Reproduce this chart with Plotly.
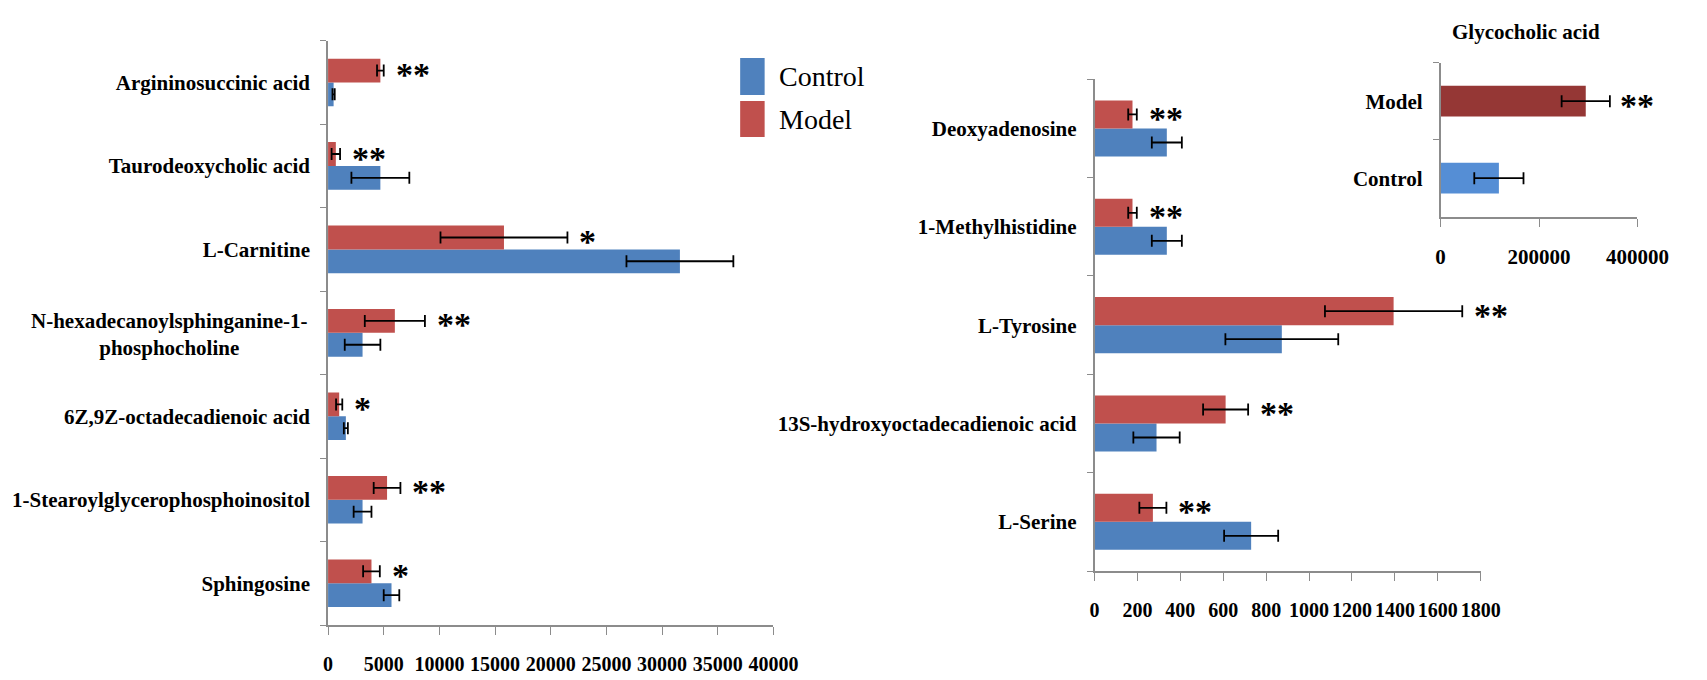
import plotly.graph_objects as go

# ---------------- data ----------------
left_categories = ["Argininosuccinic acid", "Taurodeoxycholic acid", "L-Carnitine",
                   "N-hexadecanoylsphinganine-1-phosphocholine", "6Z,9Z-octadecadienoic acid",
                   "1-Stearoylglycerophosphoinositol", "Sphingosine"]
left_control = [500, 4700, 31600, 3100, 1600, 3100, 5700]
left_control_err = [100, 2600, 4800, 1600, 180, 800, 700]
left_model = [4700, 700, 15800, 6000, 1000, 5300, 3900]
left_model_err = [300, 380, 5700, 2700, 280, 1200, 750]
left_sig = ["**", "**", "*", "**", "*", "**", "*"]

right_categories = ["Deoxyadenosine", "1-Methylhistidine", "L-Tyrosine",
                    "13S-hydroxyoctadecadienoic acid", "L-Serine"]
right_control = [337, 337, 873, 289, 730]
right_control_err = [70, 70, 263, 108, 126]
right_model = [177, 177, 1394, 611, 272]
right_model_err = [20, 20, 320, 105, 63]
right_sig = ["**", "**", "**", "**", "**"]

inset_title = "Glycocholic acid"
inset_groups = ["Model", "Control"]
inset_values = [295000, 118500]
inset_err = [49000, 50000]
inset_sig = ["**", ""]

left_ticks = [0, 5000, 10000, 15000, 20000, 25000, 30000, 35000, 40000]
right_ticks = [0, 200, 400, 600, 800, 1000, 1200, 1400, 1600, 1800]
inset_ticks = [0, 200000, 400000]

# ---------------- style ----------------
FONT = "Liberation Serif, Times New Roman, serif"
BLUE = "#4F81BD"
RED = "#C0504D"
INSET_MODEL = "#953735"
INSET_CONTROL = "#558ED5"
AXIS_COLOR = "#8c8c8c"
BARGAP = 0.43
W, H = 1707, 680

def err(arr):
    return dict(type="data", array=arr, color="black", thickness=1.8, width=6, visible=True)

# bottom-to-top ordering for categorical y axes
left_order = left_categories[::-1]
right_order = right_categories[::-1]

fig = go.Figure()

# Left panel
fig.add_trace(go.Bar(y=left_categories, x=left_control, orientation="h", name="Control",
                     marker=dict(color=BLUE, line=dict(width=0)), error_x=err(left_control_err),
                     xaxis="x", yaxis="y"))
fig.add_trace(go.Bar(y=left_categories, x=left_model, orientation="h", name="Model",
                     marker=dict(color=RED, line=dict(width=0)), error_x=err(left_model_err),
                     xaxis="x", yaxis="y"))
# Right panel
fig.add_trace(go.Bar(y=right_categories, x=right_control, orientation="h", name="Control",
                     marker=dict(color=BLUE, line=dict(width=0)), error_x=err(right_control_err),
                     xaxis="x2", yaxis="y2"))
fig.add_trace(go.Bar(y=right_categories, x=right_model, orientation="h", name="Model",
                     marker=dict(color=RED, line=dict(width=0)), error_x=err(right_model_err),
                     xaxis="x2", yaxis="y2"))
# Inset
fig.add_trace(go.Bar(y=inset_groups, x=inset_values, orientation="h", width=0.4,
                     marker=dict(color=[INSET_MODEL, INSET_CONTROL], line=dict(width=0)),
                     error_x=err(inset_err), xaxis="x3", yaxis="y3"))

labelfont = dict(family=FONT, size=21, color="black", weight="bold")

def xax(domain, rng, ticks, anchor, size=20):
    return dict(domain=domain, range=rng, tickmode="array", tickvals=ticks,
                ticktext=[str(t) for t in ticks], showgrid=False, zeroline=False,
                showline=True, linecolor=AXIS_COLOR, linewidth=1.6,
                ticks="outside", ticklen=8, tickwidth=1.4, tickcolor=AXIS_COLOR,
                tickfont=dict(family=FONT, size=size, color="black", weight="bold"),
                ticklabelstandoff=12, anchor=anchor, fixedrange=True)

def yax(domain, order, anchor, ticktext=None):
    d = dict(domain=domain, type="category", categoryorder="array", categoryarray=order,
             showgrid=False, zeroline=False, showline=True, linecolor=AXIS_COLOR, linewidth=1.6,
             ticks="outside", ticklen=6, tickwidth=1.4, tickcolor=AXIS_COLOR,
             tickson="boundaries", tickfont=labelfont, ticklabelstandoff=12,
             anchor=anchor, fixedrange=True)
    if ticktext is not None:
        d.update(tickmode="array", tickvals=order, ticktext=ticktext)
    return d

def px_x(p):
    return p / W

def px_y(p):
    return 1 - p / H

long_label = "N-hexadecanoylsphinganine-1-phosphocholine"
left_ticktext = ["" if c == long_label else c for c in left_order]

fig.update_layout(
    width=W, height=H, autosize=False, margin=dict(l=0, r=0, t=0, b=0, pad=0),
    paper_bgcolor="white", plot_bgcolor="rgba(0,0,0,0)",
    barmode="group", bargap=BARGAP, bargroupgap=0, showlegend=False,
    font=dict(family=FONT, color="black"),
    xaxis=xax([px_x(330), px_x(785)], [0, 40000], left_ticks, "y"),
    yaxis=yax([px_y(625), px_y(40.7)], left_order, "x", left_ticktext),
    xaxis2=xax([px_x(1113), px_x(1507.5)], [0, 1800], right_ticks, "y2"),
    yaxis2=yax([px_y(571), px_y(79.3)], right_order, "x2"),
    xaxis3=xax([px_x(1466.5), px_x(1667.6)], [0, 400000], inset_ticks, "y3", size=21),
    yaxis3=yax([px_y(216.7), px_y(62.7)], inset_groups[::-1], "x3"),
)

annotations = []
# centered two-line label
annotations.append(dict(text="N-hexadecanoylsphinganine-1-<br>phosphocholine", x=0, xref="x",
                        y=long_label, yref="y", xanchor="right", yanchor="middle", align="center",
                        xshift=-18, yshift=-2, showarrow=False, font=labelfont))

STAR_FONT = dict(family=FONT, size=34, color="black", weight="bold")
off = (1 - BARGAP) / 4
for cat, v, e, s in zip(left_categories, left_model, left_model_err, left_sig):
    annotations.append(dict(text=s, x=v + e, xref="x", y=left_order.index(cat) + off, yref="y",
                            xanchor="left", yanchor="middle", xshift=10, yshift=-4,
                            showarrow=False, font=STAR_FONT))
for cat, v, e, s in zip(right_categories, right_model, right_model_err, right_sig):
    annotations.append(dict(text=s, x=v + e, xref="x2", y=right_order.index(cat) + off, yref="y2",
                            xanchor="left", yanchor="middle", xshift=10, yshift=-4,
                            showarrow=False, font=STAR_FONT))
for g, v, e, s in zip(inset_groups, inset_values, inset_err, inset_sig):
    if s:
        annotations.append(dict(text=s, x=v + e, xref="x3", y=g, yref="y3",
                                xanchor="left", yanchor="middle", xshift=8, yshift=-4,
                                showarrow=False, font=STAR_FONT))

# inset title
annotations.append(dict(text=inset_title, x=px_x(1553.5), y=px_y(32), xref="paper", yref="paper",
                        xanchor="center", yanchor="middle", showarrow=False,
                        font=dict(family=FONT, size=21, color="black", weight="bold")))

# legend (manual, matching the large swatches)
legend_items = [("Control", BLUE, 58, 95, 76), ("Model", RED, 101, 137, 119)]
shapes = []
for name, col, top, bot, mid in legend_items:
    shapes.append(dict(type="rect", xref="paper", yref="paper", x0=px_x(751), x1=px_x(776),
                       y0=px_y(bot), y1=px_y(top), fillcolor=col, line=dict(width=0)))
    annotations.append(dict(text=name, x=px_x(789), y=px_y(mid), xref="paper", yref="paper",
                            xanchor="left", yanchor="middle", showarrow=False,
                            font=dict(family=FONT, size=28, color="black")))

fig.update_layout(annotations=annotations, shapes=shapes)

fig.write_html("out.html", config={"displayModeBar": False, "responsive": False})
